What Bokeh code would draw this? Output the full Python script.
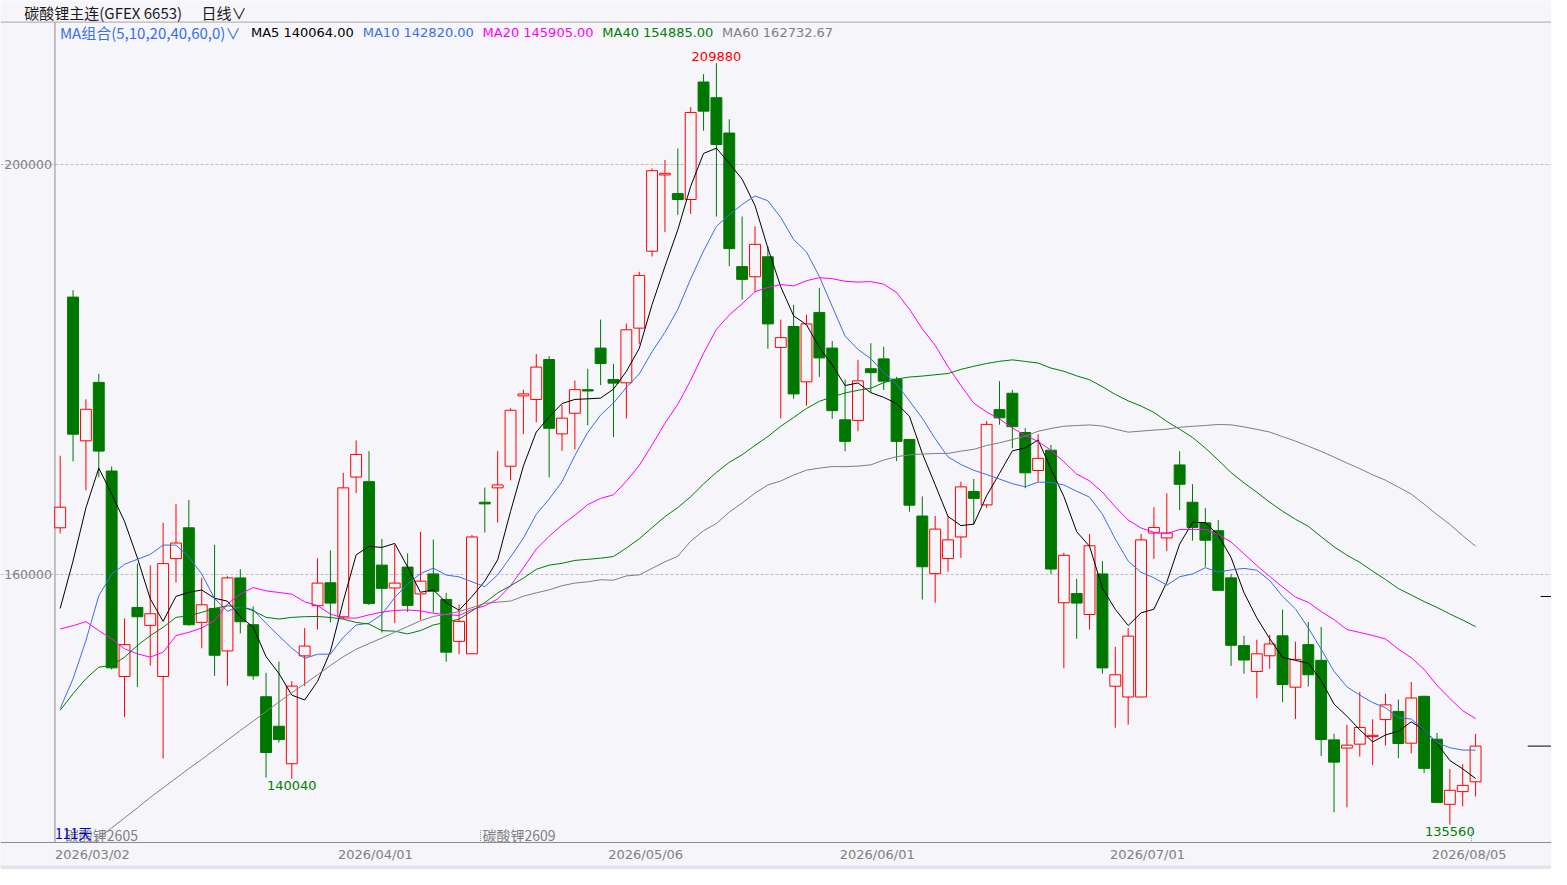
import numpy as np
from bokeh.plotting import figure
from bokeh.models import (ColumnDataSource, FixedTicker, Span, Label, Range1d,
                          BasicTickFormatter, BoxAnnotation)
from bokeh.embed import file_html
from bokeh.resources import INLINE

# ---------------- data ----------------
opens = [164536, 187054, 173025, 178727, 170076, 150021, 156760, 155011, 150021, 161523,
         164536, 155302, 156663, 152515, 159644, 155075, 148044, 145160, 141504, 152033,
         156931, 159168, 155845, 169488, 169040, 160893, 158657, 160702, 158082, 160031,
         157539, 153449, 152234, 167028, 168434, 170542, 177411, 177060, 180958, 173704,
         175718, 178019, 182076, 179008, 178689, 184025, 191533, 198977, 197156, 196581,
         208051, 206517, 203067, 190031, 189041, 190990, 182139, 184184, 178785, 185558,
         182076, 175078, 175014, 180063, 181021, 179040, 173161, 165685, 160062, 161532,
         163641, 168081, 166772, 176069, 177667, 173833, 170127, 172107, 157219, 158113,
         156069, 160031, 149072, 148017, 148017, 164024, 163545, 170670, 167028, 165015,
         164248, 159648, 153034, 150510, 152043, 153992, 148976, 153130, 151596, 143832,
         143033, 143416, 144151, 145813, 146611, 143512, 148081, 143896, 137537, 138784,
         139742]
highs = [171567, 187734, 177075, 179570, 170530, 155691, 161037, 160875, 165022, 166869,
         167257, 159644, 162884, 159806, 160486, 156857, 150377, 151479, 149567, 154759,
         161564, 162331, 169903, 173066, 172012, 163449, 162874, 162044, 164152, 163385,
         158178, 157027, 163833, 168466, 172012, 176197, 178019, 181501, 181300, 176548,
         178912, 180063, 184855, 180542, 184472, 189520, 199616, 200447, 201565, 205591,
         208818, 209880, 204409, 194919, 193961, 192000, 184855, 186293, 185335, 187954,
         182778, 179008, 180925, 182555, 182203, 179264, 173161, 167602, 165685, 165685,
         169040, 169296, 174951, 178849, 177986, 174248, 173672, 172618, 162100, 159552,
         163929, 161277, 152906, 154727, 163929, 166549, 167891, 172012, 168785, 166453,
         165302, 160031, 153992, 153609, 154088, 156548, 153417, 155334, 154855, 144439,
         145302, 148528, 145844, 148337, 147762, 149487, 148145, 144503, 140988, 141467,
         144407]
lows = [163985, 171016, 168197, 169461, 150700, 146068, 148984, 151090, 142018, 159190,
        154978, 152775, 150085, 149114, 154233, 149697, 140151, 143573, 140040, 149094,
        154599, 155302, 155622, 167922, 156996, 154311, 155238, 156325, 155558, 156261,
        151468, 152202, 152234, 164088, 165047, 169168, 173673, 174823, 169456, 172043,
        172171, 174536, 178465, 173385, 175206, 182459, 191022, 193418, 195079, 195175,
        203290, 194919, 190063, 186805, 187571, 182012, 175206, 177124, 176452, 179264,
        175174, 172011, 173960, 177730, 177986, 171053, 166102, 157538, 157219, 160254,
        161596, 164887, 166485, 174599, 172298, 168401, 169040, 160030, 150829, 153704,
        154599, 150286, 145015, 145302, 148017, 161501, 162267, 166261, 163290, 160733,
        158433, 151053, 150286, 147890, 150765, 147507, 145877, 149040, 142267, 136771,
        137250, 142202, 141372, 143288, 142043, 142522, 140604, 137730, 135560, 137346,
        138304]
closes = [166545, 173673, 176103, 172020, 150863, 153131, 155853, 156144, 161037, 163046,
          155075, 157019, 152094, 159644, 155367, 150085, 142601, 143865, 149081, 152992,
          159136, 157187, 168434, 171692, 157155, 158625, 159136, 156964, 159328, 158338,
          152394, 155398, 163641, 166869, 168721, 176005, 177603, 180223, 174248, 175238,
          178019, 177891, 180574, 178657, 183865, 189169, 199393, 199137, 196581, 205080,
          205208, 201948, 191788, 188785, 192204, 184440, 183098, 177603, 184440, 181117,
          175973, 172970, 178881, 179679, 178849, 172970, 166741, 160733, 164408, 163353,
          168529, 167410, 174631, 175270, 174407, 169903, 171309, 160510, 161851, 157187,
          162779, 150861, 150190, 153960, 163354, 164568, 164024, 168785, 164568, 163322,
          158433, 153066, 151628, 152235, 153194, 149232, 151692, 150190, 143865, 141659,
          143321, 145046, 144279, 147250, 143480, 147921, 141052, 137730, 138911, 139391,
          143225]

ma5_early = [156665, 161300, 166480, 170360]
ma10_early = [146890, 149800, 153520, 157900, 160000, 160970, 161460, 161940, 162850]
ma20_early = [154660, 154980, 155370, 154500, 153690, 152720, 152230, 151910, 152390, 154010,
              154330, 154760, 155470, 157090, 158060, 158700, 158380, 158220, 158060]
ma40_early = [146720, 148340, 149800, 150930, 151100, 151900, 153040, 154010, 154820, 155790,
              155950, 156280, 156670, 156920, 156860, 156440, 155790, 155630, 155790, 155860,
              155880, 155780, 155620, 155300, 155140, 154500, 154440, 154180, 154500, 155050,
              155300, 155620, 156420, 157220, 158180, 158880, 159620, 160480, 160890]
ma60_early_start = 2
ma60_early = [133310, 134280, 135240, 136220, 137190, 138210, 139150, 140090, 141030, 141930,
              142870, 143810, 144750, 145660, 146600, 147530, 148440, 149300, 150190, 151090,
              151950, 152680, 153230, 153770, 154340, 154890, 155460, 155880, 156100, 156360,
              156740, 157160, 157280, 157380, 157860, 158180, 158480, 158880, 159140, 159260,
              159460, 159420, 159840, 159940, 160570, 161210, 161760, 163230, 164250, 164950,
              166070, 166960, 167920, 168720, 169100, 169680, 170160]

title_text = "碳酸锂主连(GFEX 6653)"
period_text = "日线∨"
ma_group_text = "MA组合(5,10,20,40,60,0)∨"
legend_names = ["MA5", "MA10", "MA20", "MA40", "MA60"]
legend_values = ["140064.00", "142820.00", "145905.00", "154885.00", "162732.67"]
date_idx = [0, 22, 43, 61, 82, 107]
date_labels = ["2026/03/02", "2026/04/01", "2026/05/06", "2026/06/01", "2026/07/01", "2026/08/05"]
y_ticks = [160000, 200000]
contract_names = ["碳酸锂2605", "碳酸锂2609"]
contract_switch_idx = [33, 110]
side_mark = 157830

# ---------------- styles / layout ----------------
BG = "#F5F5FA"
BAND = "#E3E3EA"
RED = "#FF0000"
GREEN = "#007800"
MA_COLORS = ["#000000", "#3A6FE8", "#FF00FF", "#008000", "#808080"]
GRAY = "#808080"
LINE_GRAY = "#8C8C8C"
LAT = "DejaVu Sans"
CJK = "Noto Sans CJK SC"

REF_W, REF_H = 1567, 885   # reference picture size
W, H = 1551, 869           # figure size (fits the window with its 8px margin)

# reference-pixel -> data mapping
X0, DX = 60.3, 13.0        # ref x of first bar, bar spacing
Y200, VPP = 167.0, 95.85   # ref y of 200000, value per ref pixel
def gx(rx):
    return (rx - X0) / DX
def gy(ry):
    return 200000 - (ry - Y200) * VPP

AXIS_Y = 858   # ref y of the date axis line
p = figure(width=W, height=H, output_backend="svg", toolbar_location=None,
           x_range=Range1d(gx(0), gx(REF_W)), y_range=Range1d(gy(REF_H), gy(0)),
           min_border_left=0, min_border_right=0, min_border_top=0, min_border_bottom=0,
           background_fill_color=BG, border_fill_color=BG, outline_line_color=None)

# cover below the date axis, and the grey strip at the very bottom
p.add_layout(BoxAnnotation(top=gy(AXIS_Y), bottom=gy(881), fill_color=BG, fill_alpha=1,
                           line_color=None, level="annotation"))
p.add_layout(BoxAnnotation(top=gy(881), fill_color=BAND, fill_alpha=1,
                           line_color=None, level="annotation"))

# date axis at a fixed place
ax = p.xaxis[0]
ax.fixed_location = gy(AXIS_Y)
ax.level = "overlay"
off = 2.5
ax.ticker = FixedTicker(ticks=[i + off for i in date_idx])
ax.major_label_overrides = {i + off: lab for i, lab in zip(date_idx, date_labels)}
ax.major_tick_out = 0
ax.major_tick_in = 0
ax.minor_tick_out = 0
ax.minor_tick_in = 0
ax.major_label_standoff = 4
ax.axis_line_color = LINE_GRAY
ax.major_label_text_color = GRAY
ax.major_label_text_font = LAT
ax.major_label_text_font_size = "13px"

# price axis, drawn at a fixed place inside the frame
ay = p.yaxis[0]
ay.fixed_location = gx(55)
ay.ticker = FixedTicker(ticks=y_ticks)
ay.formatter = BasicTickFormatter(use_scientific=False)
ay.major_label_overrides = {t: str(t) for t in y_ticks}
ay.major_tick_out = 0
ay.major_tick_in = 0
ay.minor_tick_out = 0
ay.minor_tick_in = 0
ay.major_label_standoff = 3
ay.axis_line_color = None
ay.major_label_text_color = GRAY
ay.major_label_text_font = LAT
ay.major_label_text_font_size = "12.5px"

p.xgrid.visible = False
p.ygrid.ticker = FixedTicker(ticks=y_ticks)
p.ygrid.grid_line_color = "#BEBEBE"
p.ygrid.grid_line_dash = "3 2"
p.ygrid.grid_line_width = 1

# header separator line and price-axis line
p.add_layout(Span(location=gy(22), dimension="width", line_color="#A8A8A8", line_width=1))
p.segment(x0=[gx(55)], y0=[gy(AXIS_Y)], x1=[gx(55)], y1=[gy(22)],
          line_color=LINE_GRAY, line_width=1)

# ---------------- candles ----------------
n = len(closes)
idx = np.arange(n)
o = np.array(opens, float)
h = np.array(highs, float)
l = np.array(lows, float)
c = np.array(closes, float)
up = c >= o
dn = ~up
bw = 11.0 / DX

src_up = ColumnDataSource(dict(x=idx[up], top=c[up], bottom=o[up], hi=h[up], lo=l[up]))
src_dn = ColumnDataSource(dict(x=idx[dn], top=o[dn], bottom=c[dn], hi=h[dn], lo=l[dn]))

p.segment(x0="x", y0="hi", x1="x", y1="lo", source=src_up, line_color=RED, line_width=1)
p.vbar(x="x", width=bw, top="top", bottom="bottom", source=src_up,
       fill_color=BG, line_color=RED, line_width=1)
p.segment(x0="x", y0="hi", x1="x", y1="lo", source=src_dn, line_color=GREEN, line_width=1)
p.vbar(x="x", width=bw, top="top", bottom="bottom", source=src_dn,
       fill_color=GREEN, line_color=GREEN, line_width=1)

# ---------------- moving averages ----------------
def moving_average(win, early, start=0):
    out = np.full(n, np.nan)
    for k in range(win - 1, n):
        out[k] = c[k - win + 1:k + 1].mean()
    out[start:start + len(early)] = early
    return out

mas = [moving_average(5, ma5_early), moving_average(10, ma10_early),
       moving_average(20, ma20_early), moving_average(40, ma40_early),
       moving_average(60, ma60_early, ma60_early_start)]
for m, col in zip(mas, MA_COLORS):
    p.line(idx, m, line_color=col, line_width=1)

# ---------------- markers on the right edge ----------------
xr_end = gx(REF_W)
p.segment(x0=[gx(1543)], y0=[c[-1]], x1=[xr_end], y1=[c[-1]], line_color="#000000", line_width=1)
p.segment(x0=[gx(1556)], y0=[side_mark], x1=[xr_end], y1=[side_mark], line_color="#000000", line_width=1)

# contract switch markers
for ci in contract_switch_idx:
    p.segment(x0=[ci - 0.33], y0=[gy(AXIS_Y)], x1=[ci - 0.33], y1=[gy(845)],
              line_color="#909090", line_width=1, line_dash="1 1")

# ---------------- texts ----------------
def lab(x, y, text, color, font=LAT, size="13px", align="left", baseline="middle"):
    p.add_layout(Label(x=x, y=y, text=text, text_color=color, text_font=font,
                       text_font_size=size, text_align=align, text_baseline=baseline))

# header
lab(gx(24), gy(12), title_text, "#1A1A1A", CJK, "15px")
lab(gx(203), gy(12), period_text, "#1A1A1A", CJK, "15px")

# MA legend
lab(gx(60), gy(33), ma_group_text, MA_COLORS[1], CJK, "15px")
legend_px = [253, 366, 487, 608, 729]
for px, nm, vv, col in zip(legend_px, legend_names, legend_values, MA_COLORS):
    lab(gx(px), gy(33), f"{nm} {vv}", col, LAT, "13px")

# extreme values
imax = int(np.argmax(h))
lab(imax, h[imax] + 2 * VPP, str(int(h[imax])), RED, LAT, "13px", "center", "bottom")
low_marks = [int(np.argmin(l[:40])), int(np.argmin(l))]
for li in low_marks:
    lab(li, l[li] - 2 * VPP, str(int(l[li])), "#008000", LAT, "13px", "center", "top")

# bottom-left texts
contract_label_px = [65, 487]
for px, nm in zip(contract_label_px, contract_names):
    lab(gx(px), gy(850), nm, GRAY, CJK, "14px")
lab(gx(55), gy(848), f"{n}天", "#0000C8", CJK, "14px")

open("out.html", "w").write(file_html(p, INLINE))
